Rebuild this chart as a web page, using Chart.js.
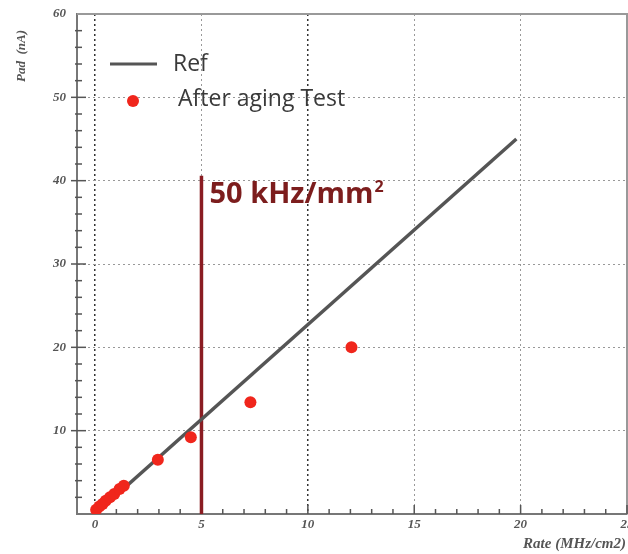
<!DOCTYPE html>
<html>
<head>
<meta charset="utf-8">
<script src="https://cdn.jsdelivr.net/npm/chart.js@4.4.1/dist/chart.umd.min.js"></script>
<style>
html, body { margin: 0; padding: 0; background: #fff; }
</style>
</head>
<body>
<canvas id="grafico" width="628" height="554"></canvas>
<script>
// valores
const rateAging = [0.05, 0.2, 0.35, 0.5, 0.7, 0.9, 1.15, 1.35, 2.95, 4.5, 7.3, 12.05];
const padAging  = [0.5, 0.9, 1.2, 1.6, 2.0, 2.4, 3.0, 3.4, 6.5, 9.2, 13.4, 20.0];
const rateRef = [0, 19.8];
const padRef  = [0, 45];
const rateLimite = [5, 5];
const padLimite  = [0, 40.6];
const xTicks = [0, 5, 10, 15, 20, 25];
const yTicks = [10, 20, 30, 40, 50, 60];
const xMinor = [0,1,2,3,4,5,6,7,8,9,10,11,12,13,14,15,16,17,18,19,20,21,22,23,24,25];
const yMinor = [2,4,6,8,10,12,14,16,18,20,22,24,26,28,30,32,34,36,38,40,42,44,46,48,50,52,54,56,58];

const pontos = (xs, ys) => xs.map((x, i) => ({ x: x, y: ys[i] }));

// desenha moldura, ticks menores, legenda e textos
const extras = {
    id: 'extras',
    beforeDatasetsDraw(chart) {
        const ctx = chart.ctx;
        const a = chart.chartArea;
        const sx = chart.scales.x, sy = chart.scales.y;
        ctx.save();
        // moldura superior e direita
        ctx.strokeStyle = '#999';
        ctx.lineWidth = 2;
        ctx.beginPath();
        ctx.moveTo(a.left, a.top);
        ctx.lineTo(a.right, a.top);
        ctx.lineTo(a.right, a.bottom);
        ctx.stroke();
        // ticks para dentro
        ctx.strokeStyle = '#555';
        ctx.lineWidth = 1.5;
        xMinor.forEach(v => {
            const px = sx.getPixelForValue(v);
            const len = v % 5 === 0 ? 9 : 5;
            ctx.beginPath();
            ctx.moveTo(px, a.bottom);
            ctx.lineTo(px, a.bottom - len);
            ctx.stroke();
        });
        yMinor.forEach(v => {
            const py = sy.getPixelForValue(v);
            const len = v % 10 === 0 ? 9 : 5;
            ctx.beginPath();
            ctx.moveTo(a.left - (v % 10 === 0 ? 6 : 2), py);
            ctx.lineTo(a.left + len, py);
            ctx.stroke();
        });
        ctx.restore();
    },
    afterDraw(chart) {
        const ctx = chart.ctx;
        const sx = chart.scales.x, sy = chart.scales.y;
        ctx.save();
        // títulos dos eixos
        ctx.fillStyle = '#555';
        ctx.font = 'italic bold 15px "Liberation Serif", serif';
        ctx.textAlign = 'right';
        ctx.textBaseline = 'middle';
        ctx.fillText('Rate (MHz/cm2)', 626, 544);
        ctx.font = 'italic bold 13px "Liberation Serif", serif';
        ctx.translate(22, 56);
        ctx.rotate(-Math.PI / 2);
        ctx.textAlign = 'center';
        ctx.fillText('Pad  (nA)', 0, 0);
        ctx.setTransform(1, 0, 0, 1, 0, 0);

        // legenda
        const dsRef = chart.data.datasets[0];
        const dsAg = chart.data.datasets[2];
        ctx.strokeStyle = dsRef.borderColor;
        ctx.lineWidth = 3;
        ctx.beginPath();
        ctx.moveTo(110, 64);
        ctx.lineTo(157, 64);
        ctx.stroke();
        ctx.fillStyle = dsAg.backgroundColor;
        ctx.beginPath();
        ctx.arc(133, 101, 6, 0, Math.PI * 2);
        ctx.fill();
        ctx.fillStyle = '#3a3a3a';
        ctx.font = '23px "Open Sans", sans-serif';
        ctx.textAlign = 'left';
        ctx.textBaseline = 'middle';
        ctx.fillText(dsRef.label, 173, 64);
        ctx.fillText(dsAg.label, 178, 99);

        // rótulo do limite
        const tx = sx.getPixelForValue(rateLimite[0]) + 8;
        const ty = sy.getPixelForValue(37.3);
        ctx.fillStyle = '#7c1d1d';
        ctx.font = 'bold 29px "Open Sans", sans-serif';
        ctx.textBaseline = 'alphabetic';
        ctx.fillText('50 kHz/mm', tx, ty);
        const w = ctx.measureText('50 kHz/mm').width;
        ctx.font = 'bold 16px "Open Sans", sans-serif';
        ctx.fillText('2', tx + w + 1, ty - 11);
        ctx.restore();
    }
};

new Chart(document.getElementById('grafico'), {
    type: 'scatter',
    data: {
        datasets: [
            {
                label: 'Ref',
                data: pontos(rateRef, padRef),
                showLine: true,
                borderColor: '#555555',
                borderWidth: 3.5,
                pointRadius: 0,
                order: 2
            },
            {
                label: '50 kHz/mm2',
                data: pontos(rateLimite, padLimite),
                showLine: true,
                borderColor: '#8a1c22',
                borderWidth: 3.5,
                pointRadius: 0,
                order: 3
            },
            {
                label: 'After aging Test',
                data: pontos(rateAging, padAging),
                backgroundColor: '#f0261c',
                borderWidth: 0,
                pointRadius: 6,
                order: 1
            }
        ]
    },
    options: {
        responsive: false,
        animation: false,
        layout: { autoPadding: false, padding: { top: 14, right: 1, left: 0, bottom: 0 } },
        plugins: {
            legend: { display: false },
            tooltip: { enabled: false }
        },
        scales: {
            x: {
                type: 'linear',
                min: -0.85,
                max: 25,
                afterBuildTicks: s => { s.ticks = xTicks.map(v => ({ value: v })); },
                afterFit: s => { s.height = 40; s.paddingLeft = 0; s.paddingRight = 0; },
                ticks: {
                    color: '#555',
                    font: { family: '"Liberation Serif", serif', style: 'italic', weight: 'bold', size: 13 },
                    padding: 3,
                    maxRotation: 0
                },
                grid: {
                    drawTicks: false,
                    color: c => (c.tick && (c.tick.value === 0 || c.tick.value === 10)) ? '#333' : '#999',
                    lineWidth: c => (c.tick && (c.tick.value === 0 || c.tick.value === 10)) ? 1.5 : 1
                },
                border: { color: '#777', width: 2, dash: [2, 3] }
            },
            y: {
                type: 'linear',
                min: 0,
                max: 60,
                afterBuildTicks: s => { s.ticks = yTicks.map(v => ({ value: v })); },
                afterFit: s => { s.width = 77; s.paddingTop = 0; s.paddingBottom = 0; },
                ticks: {
                    color: '#555',
                    font: { family: '"Liberation Serif", serif', style: 'italic', weight: 'bold', size: 13 },
                    padding: 11
                },
                grid: {
                    drawTicks: false,
                    color: '#999',
                    lineWidth: 1
                },
                border: { color: '#777', width: 2, dash: [2, 3] }
            }
        }
    },
    plugins: [extras]
});
</script>
</body>
</html>
